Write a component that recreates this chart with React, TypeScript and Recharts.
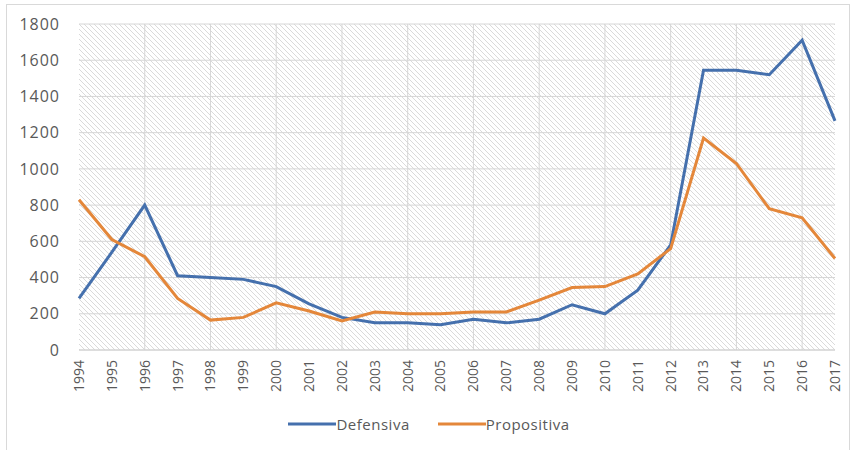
import React from 'react';
import { LineChart, Line, XAxis, YAxis, CartesianGrid, Legend, ReferenceLine } from 'recharts';

// Anos da série
const anos = [
  '1994', '1995', '1996', '1997', '1998', '1999', '2000', '2001', '2002', '2003', '2004', '2005',
  '2006', '2007', '2008', '2009', '2010', '2011', '2012', '2013', '2014', '2015', '2016', '2017',
];

const defensiva = [
  285, 540, 800, 410, 400, 390, 350, 255, 180, 150, 150, 140,
  170, 150, 170, 250, 200, 330, 580, 1545, 1545, 1520, 1710, 1265,
];

const propositiva = [
  830, 610, 515, 285, 165, 180, 260, 215, 160, 210, 200, 200,
  210, 210, 275, 345, 350, 420, 560, 1170, 1030, 780, 730, 505,
];

const yTicks = [0, 200, 400, 600, 800, 1000, 1200, 1400, 1600, 1800];

const dados = anos.map((ano, i) => ({
  ano,
  defensiva: defensiva[i],
  propositiva: propositiva[i],
}));

// linhas verticais da grade a cada dois anos
const anosGrade = anos.filter((_, i) => i % 2 === 0 && i > 0);

const AZUL = '#4570ad';
const LARANJA = '#e4873a';
const TEXTO = '#595959';
const FONTE = '"Open Sans", "Liberation Sans", sans-serif';

const TickAno = ({ x, y, payload }: any) => (
  <text
    transform={`translate(${x},${y}) rotate(-90)`}
    textAnchor="end"
    dy="0.35em"
    fill={TEXTO}
    fontSize={14}
    fontFamily={FONTE}
  >
    {payload.value}
  </text>
);

const Legenda = () => {
  const itens = [
    { nome: 'Defensiva', cor: AZUL },
    { nome: 'Propositiva', cor: LARANJA },
  ];
  return (
    <div style={{ display: 'flex', justifyContent: 'center', gap: 28, fontFamily: FONTE, fontSize: 15, color: TEXTO, paddingLeft: 4 }}>
      {itens.map((item) => (
        <div key={item.nome} style={{ display: 'flex', alignItems: 'center' }}>
          <svg width={48} height={10}>
            <line x1={0} y1={5} x2={48} y2={5} stroke={item.cor} strokeWidth={3} />
          </svg>
          <span style={{ letterSpacing: 0.5 }}>{item.nome}</span>
        </div>
      ))}
    </div>
  );
};

export default function App() {
  return (
    <div
      style={{
        position: 'absolute',
        left: 0,
        top: 0,
        width: 856,
        height: 450,
        background: '#fff',
      }}
    >
      <div
        style={{
          position: 'absolute',
          left: 6,
          top: 4,
          width: 844,
          height: 446,
          border: '1px solid #d9d9d9',
          borderBottom: 'none',
          boxSizing: 'border-box',
        }}
      />
      <LineChart
        width={856}
        height={450}
        data={dados}
        margin={{ top: 24, right: 21, left: 19, bottom: 6 }}
      >
        <defs>
          <pattern id="hachura" width={5} height={5} patternUnits="userSpaceOnUse">
            <path d="M-1,-1 L6,6 M-1,4 L1,6 M4,-1 L6,1" stroke="#dadada" strokeWidth={1} />
          </pattern>
        </defs>
        <CartesianGrid
          vertical={false}
          stroke="#d6d6d6"
          fill="url(#hachura)"
          fillOpacity={1}
        />
        {anosGrade.map((ano) => (
          <ReferenceLine key={ano} x={ano} stroke="#d6d6d6" strokeWidth={1} />
        ))}
        <XAxis
          dataKey="ano"
          interval={0}
          height={64}
          tick={<TickAno />}
          tickLine={false}
          tickSize={6}
          tickMargin={4}
          axisLine={{ stroke: '#d0d0d0' }}
        />
        <YAxis
          domain={[0, 1800]}
          ticks={yTicks}
          width={60}
          tickLine={false}
          axisLine={false}
          tickMargin={13}
          tick={{ fill: TEXTO, fontSize: 16, fontFamily: FONTE, letterSpacing: 1 }}
        />
        <Legend verticalAlign="bottom" height={30} content={<Legenda />} />
        <Line
          type="linear"
          dataKey="defensiva"
          name="Defensiva"
          stroke={AZUL}
          strokeWidth={3}
          dot={false}
          isAnimationActive={false}
        />
        <Line
          type="linear"
          dataKey="propositiva"
          name="Propositiva"
          stroke={LARANJA}
          strokeWidth={3}
          dot={false}
          isAnimationActive={false}
        />
      </LineChart>
    </div>
  );
}
